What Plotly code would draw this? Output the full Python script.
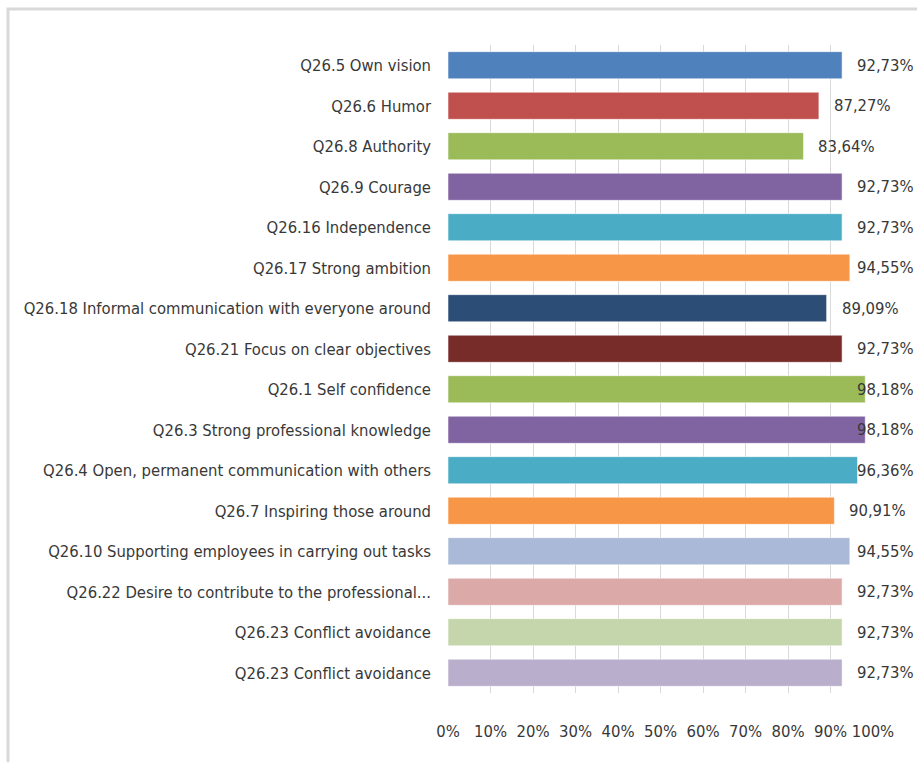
import plotly.graph_objects as go

# Share of respondents rating each leadership trait as important
categories = [
    "Q26.5 Own vision",
    "Q26.6 Humor",
    "Q26.8 Authority",
    "Q26.9 Courage",
    "Q26.16 Independence",
    "Q26.17 Strong ambition",
    "Q26.18 Informal communication with everyone around",
    "Q26.21 Focus on clear objectives",
    "Q26.1 Self confidence",
    "Q26.3 Strong professional knowledge",
    "Q26.4 Open, permanent communication with others",
    "Q26.7 Inspiring those around",
    "Q26.10 Supporting employees in carrying out tasks",
    "Q26.22 Desire to contribute to the professional...",
    "Q26.23 Conflict avoidance",
    "Q26.23 Conflict avoidance",
]
values = [92.73, 87.27, 83.64, 92.73, 92.73, 94.55, 89.09, 92.73,
          98.18, 98.18, 96.36, 90.91, 94.55, 92.73, 92.73, 92.73]
colors = ["#4F81BD", "#C0504D", "#9BBB59", "#8064A2", "#4BACC6", "#F79646",
          "#2C4D75", "#772C2A", "#9BBB59", "#8064A2", "#4BACC6", "#F79646",
          "#A9B9D7", "#DBA9A8", "#C6D6AC", "#B9AECB"]
x_ticks = [0, 10, 20, 30, 40, 50, 60, 70, 80, 90, 100]

FONT = "DejaVu Sans Condensed, Liberation Sans Narrow, Arial Narrow, sans-serif"
TEXT = "#383838"
FS = 16.5

W, H = 917, 762
L, R, T, B = 448, 44, 45, 69
plot_w = W - L - R
plot_h = H - T - B

positions = list(range(len(categories)))

fig = go.Figure(go.Bar(
    x=values,
    y=positions,
    orientation="h",
    width=0.67,
    marker=dict(color=colors, line=dict(color="rgba(255,255,255,0.55)", width=1)),
    hoverinfo="skip",
))

# value labels: just past the bar end, pulled back inside the chart where they would overflow
LABEL_W = 58
annotations = []
right_limit = (W - 1 - L) / plot_w
for pos, v in zip(positions, values):
    txt = f"{v:.2f}".replace(".", ",") + "%"
    end_px = L + v / 100 * plot_w
    if end_px + 13 + LABEL_W > W - 1:
        annotations.append(dict(x=right_limit, xref="paper", y=pos, yref="y",
                                text=txt, showarrow=False, xanchor="right",
                                font=dict(family=FONT, size=FS, color=TEXT)))
    else:
        annotations.append(dict(x=v, xref="x", y=pos, yref="y", xshift=13,
                                text=txt, showarrow=False, xanchor="left",
                                font=dict(family=FONT, size=FS, color=TEXT)))

# chart frame
px_left, px_top = 8, 9
frame = dict(type="rect", xref="paper", yref="paper",
             x0=(px_left - L) / plot_w, x1=2.0,
             y0=-1.0, y1=(H - B - px_top) / plot_h,
             line=dict(color="#D9D9D9", width=3), fillcolor="rgba(0,0,0,0)",
             layer="below")

fig.update_layout(
    width=W, height=H,
    margin=dict(l=L, r=R, t=T, b=B, pad=0, autoexpand=False),
    paper_bgcolor="white", plot_bgcolor="white",
    showlegend=False,
    bargap=0.33,
    annotations=annotations,
    shapes=[frame],
    font=dict(family=FONT, size=FS, color=TEXT),
)
fig.update_xaxes(
    range=[0, 100],
    tickvals=x_ticks,
    ticktext=[f"{t}%" for t in x_ticks],
    tickangle=0,
    automargin=False,
    showgrid=True, gridcolor="#D9D9D9", gridwidth=1,
    zeroline=False, showline=False,
    ticks="", ticklabelstandoff=26,
    tickfont=dict(family=FONT, size=FS, color=TEXT),
    fixedrange=True,
)
fig.update_yaxes(
    range=[len(categories) - 0.5, -0.5],
    tickvals=positions,
    ticktext=categories,
    automargin=False,
    showgrid=False, zeroline=False, showline=False,
    ticks="", ticklabelstandoff=16,
    tickfont=dict(family=FONT, size=FS, color=TEXT),
    fixedrange=True,
)

fig.write_html("out.html")
